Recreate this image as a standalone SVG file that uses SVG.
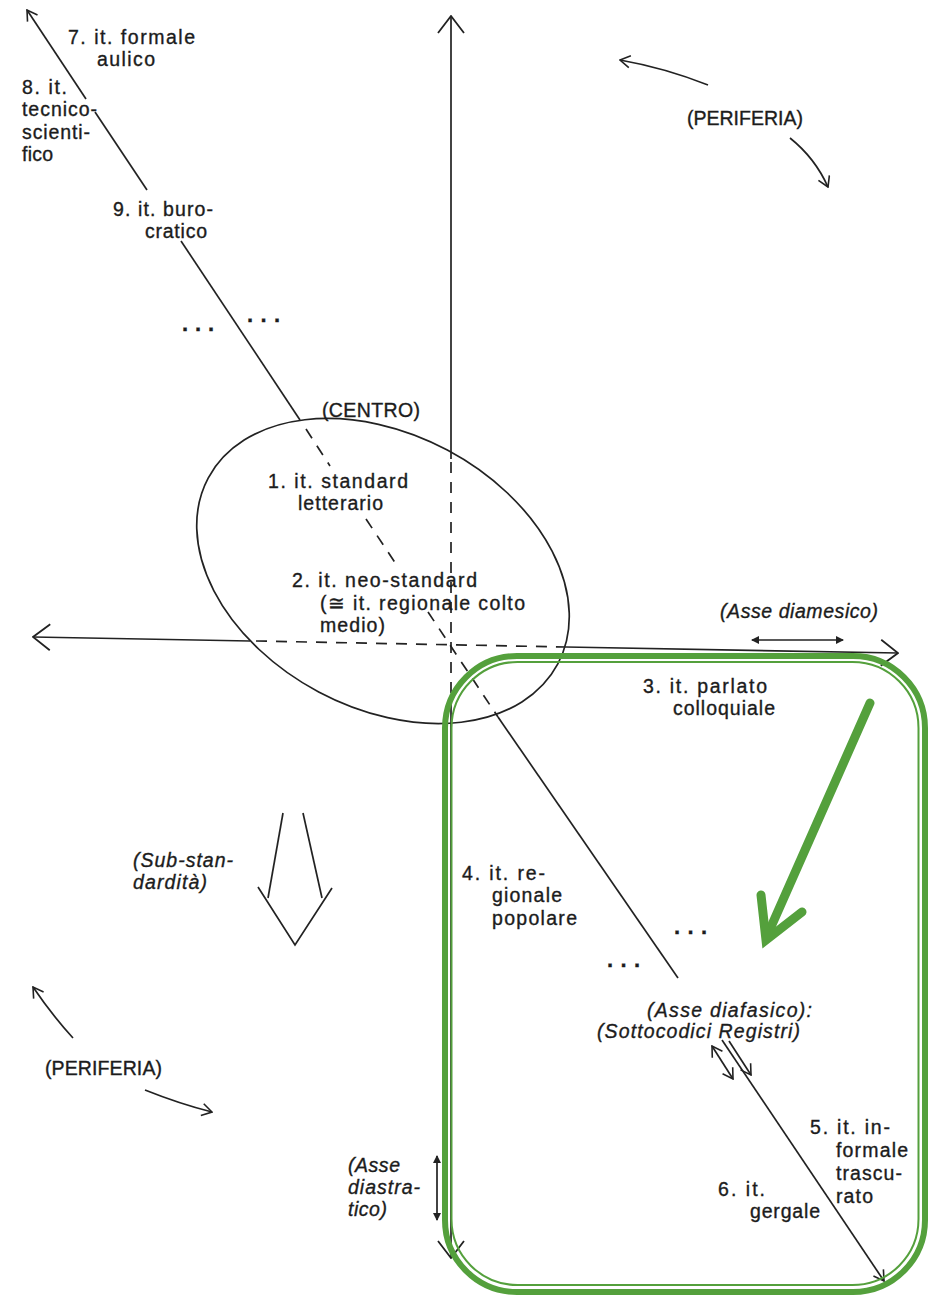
<svg xmlns="http://www.w3.org/2000/svg" width="929" height="1296" viewBox="0 0 929 1296">
<style>
text{font-family:"Liberation Sans",Arial,sans-serif;font-size:19.5px;fill:#1c1c1c;stroke:#1c1c1c;stroke-width:0.35px;}
.i{font-style:italic;}
.dots{font-weight:bold;font-size:22px;}
.ln{stroke:#222;stroke-width:1.7;fill:none;}
.dash{stroke:#222;stroke-width:1.7;fill:none;stroke-dasharray:11 9;}
.g{stroke:#54a03c;fill:none;}
</style>
<defs>
<marker id="big" viewBox="0 0 20 30" refX="19" refY="15" markerWidth="20" markerHeight="30" markerUnits="userSpaceOnUse" orient="auto-start-reverse">
<path d="M2,2 L19,15 L2,28" fill="none" stroke="#222" stroke-width="1.8"/>
</marker>
<marker id="sm" viewBox="0 0 12 14" refX="11" refY="7" markerWidth="12" markerHeight="14" markerUnits="userSpaceOnUse" orient="auto-start-reverse">
<path d="M1,1 L11,7 L1,13" fill="none" stroke="#222" stroke-width="1.6"/>
</marker>
<marker id="tiny" viewBox="0 0 8 8" refX="7" refY="4" markerWidth="8" markerHeight="8" markerUnits="userSpaceOnUse" orient="auto-start-reverse">
<path d="M0,0 L8,4 L0,8 Z" fill="#222"/>
</marker>
</defs>
<rect width="929" height="1296" fill="#fff"/>

<g id="connectors">
  <ellipse id="centro-ellipse" class="ln" cx="383" cy="571" rx="198" ry="137" transform="rotate(28 383 571)"/>
  <!-- vertical axis (diastratico) -->
  <line class="ln" x1="451" y1="459" x2="451" y2="16" marker-end="url(#big)"/>
  <line class="dash" x1="451" y1="462" x2="451" y2="707"/>
  <line class="ln" x1="451" y1="707" x2="451" y2="1258" marker-end="url(#big)"/>
  <!-- horizontal axis (diamesico) -->
  <line class="ln" x1="250" y1="641" x2="33" y2="637" marker-end="url(#big)"/>
  <line class="dash" x1="256" y1="641" x2="566" y2="647"/>
  <line class="ln" x1="566" y1="647" x2="898" y2="653" marker-end="url(#big)"/>
  <!-- diagonal axis (diafasico) -->
  <line class="ln" x1="86" y1="99" x2="27" y2="10" marker-end="url(#sm)"/>
  <line class="ln" x1="95" y1="112" x2="147" y2="190"/>
  <line class="ln" x1="181" y1="241" x2="300" y2="420"/>
  <line class="dash" x1="306" y1="429" x2="330" y2="466" stroke-dasharray="14 10"/>
  <line class="dash" x1="366" y1="519" x2="398" y2="567" stroke-dasharray="14 10"/>
  <line class="dash" x1="428" y1="612" x2="498" y2="717" stroke-dasharray="14 10"/>
  <line class="ln" x1="498" y1="717" x2="678" y2="978"/>
  <line class="ln" x1="722" y1="1040" x2="884" y2="1281" marker-end="url(#sm)"/>
  <line class="ln" x1="712" y1="1046" x2="733" y2="1079" marker-start="url(#sm)" marker-end="url(#sm)"/>
  <line class="ln" x1="729" y1="1041" x2="751" y2="1075" marker-end="url(#sm)"/>
  <!-- small double arrows -->
  <line class="ln" x1="752" y1="640" x2="843" y2="640" stroke-width="1.3" marker-start="url(#tiny)" marker-end="url(#tiny)"/>
  <line class="ln" x1="437" y1="1156" x2="437" y2="1220" stroke-width="1.3" marker-start="url(#tiny)" marker-end="url(#tiny)"/>
  <!-- periferia arrows -->
  <path class="ln" d="M708,85 Q665,68 620,60" marker-end="url(#sm)"/>
  <path class="ln" d="M790,138 Q815,158 828,187" marker-end="url(#sm)"/>
  <path class="ln" d="M73,1038 Q52,1015 33,987" marker-end="url(#sm)"/>
  <path class="ln" d="M145,1090 Q180,1104 212,1112" marker-end="url(#sm)"/>
  <!-- sub-standardità hollow arrow -->
  <g id="substandard-arrow">
    <line class="ln" x1="283" y1="813" x2="268" y2="898"/>
    <line class="ln" x1="303" y1="813" x2="322" y2="898"/>
    <polyline class="ln" points="258,887 295,945 332,888"/>
  </g>
</g>

<g id="n7"><text x="68" y="44" textLength="127">7. it. formale</text><text x="97" y="66" textLength="58">aulico</text></g>
<g id="n8"><text x="22" y="94" textLength="45">8. it.</text><text x="22" y="116" textLength="75">tecnico-</text><text x="22" y="139" textLength="68">scienti-</text><text x="22" y="161" textLength="31">fico</text></g>
<g id="n9"><text x="113" y="216" textLength="100">9. it. buro-</text><text x="145" y="238" textLength="62">cratico</text></g>
<g id="dots1"><text class="dots" x="182" y="331" textLength="32">...</text><text class="dots" x="247" y="322" textLength="33">...</text></g>
<g id="centro"><text x="322" y="417" textLength="98">(CENTRO)</text></g>
<g id="n1"><text x="268" y="488" textLength="140">1. it. standard</text><text x="298" y="510" textLength="85">letterario</text></g>
<g id="n2"><text x="292" y="587" textLength="185">2. it. neo-standard</text><text x="320" y="610" textLength="205">(≅ it. regionale colto</text><text x="320" y="632" textLength="65">medio)</text></g>
<g id="asse-diamesico"><text class="i" x="720" y="618" textLength="158">(Asse diamesico)</text></g>
<g id="n3"><text x="643" y="693" textLength="124">3. it. parlato</text><text x="673" y="715" textLength="102">colloquiale</text></g>
<g id="n4"><text x="462" y="880" textLength="83">4. it. re-</text><text x="492" y="902" textLength="70">gionale</text><text x="492" y="925" textLength="85">popolare</text></g>
<g id="dots2"><text class="dots" x="674" y="934" textLength="33">...</text><text class="dots" x="607" y="967" textLength="33">...</text></g>
<g id="asse-diafasico"><text class="i" x="647" y="1017" textLength="165">(Asse diafasico):</text><text class="i" x="597" y="1038" textLength="203">(Sottocodici Registri)</text></g>
<g id="n5"><text x="810" y="1134" textLength="80">5. it. in-</text><text x="836" y="1157" textLength="72">formale</text><text x="836" y="1180" textLength="66">trascu-</text><text x="836" y="1203" textLength="37">rato</text></g>
<g id="n6"><text x="718" y="1196" textLength="47">6. it.</text><text x="750" y="1218" textLength="70">gergale</text></g>
<g id="periferia-top"><text x="687" y="125" textLength="116">(PERIFERIA)</text></g>
<g id="periferia-bottom"><text x="45" y="1075" textLength="117">(PERIFERIA)</text></g>
<g id="substandard"><text class="i" x="133" y="867" textLength="100">(Sub-stan-</text><text class="i" x="133" y="889" textLength="74">dardità)</text></g>
<g id="asse-diastratico"><text class="i" x="348" y="1172" textLength="52">(Asse</text><text class="i" x="348" y="1194" textLength="72">diastra-</text><text class="i" x="348" y="1216" textLength="39">tico)</text></g>

<g id="highlight">
  <rect class="g" x="445" y="656" width="480" height="636" rx="72" stroke-width="6"/>
  <rect class="g" x="451.5" y="662" width="467" height="623" rx="66" stroke-width="2"/>
  <line class="g" x1="870" y1="703" x2="767" y2="936" stroke-width="9" stroke-linecap="round"/>
  <polyline class="g" points="761,895 766,940 802,912" stroke-width="9" stroke-linecap="round" stroke-linejoin="miter"/>
</g>
</svg>
